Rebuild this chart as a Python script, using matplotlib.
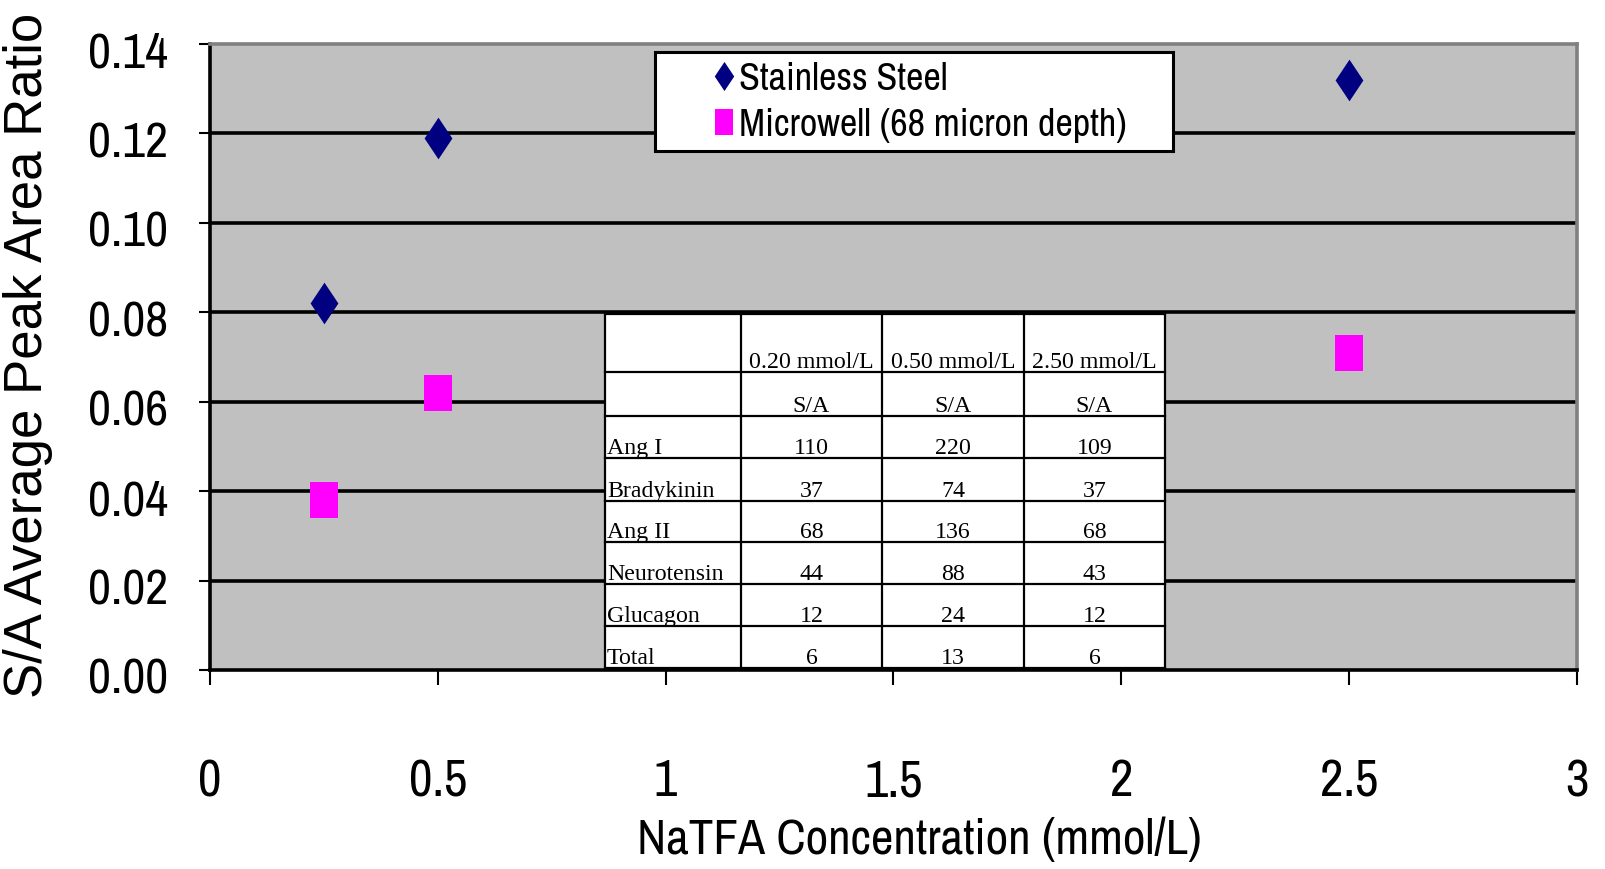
import matplotlib
matplotlib.use('Agg')
import matplotlib.pyplot as plt
from matplotlib.patches import Rectangle
from matplotlib.transforms import ScaledTranslation

# data
conc = [0.25, 0.5, 2.5]
steel = [0.082, 0.119, 0.132]
microwell = [0.038, 0.062, 0.071]

x_ticks = [0, 0.5, 1, 1.5, 2, 2.5, 3]
x_tick_labels = ['0', '0.5', '1', '1.5', '2', '2.5', '3']
y_ticks = [0.00, 0.02, 0.04, 0.06, 0.08, 0.10, 0.12, 0.14]

# inset table
col_headers = ['0.20 mmol/L', '0.50 mmol/L', '2.50 mmol/L']
sub_header = 'S/A'
peptides = ['Ang I', 'Bradykinin', 'Ang II', 'Neurotensin', 'Glucagon', 'Total']
sa_020 = [110, 37, 68, 44, 12, 6]
sa_050 = [220, 74, 136, 88, 24, 13]
sa_250 = [109, 37, 68, 43, 12, 6]

narrow = ['Archivo Narrow', 'DejaVu Sans']
serif = ['Liberation Serif', 'DejaVu Serif']

W, H = 1606, 870
fig = plt.figure(figsize=(W / 100, H / 100), dpi=100)

# plot area in pixels: x 210..1577, y 45..671
L, R, T, B = 210, 1577, 45, 671
ax = fig.add_axes([L / W, 1 - B / H, (R - L) / W, (B - T) / H])
ax.set_facecolor('#c0c0c0')
ax.set_xlim(0, 3)
ax.set_ylim(0, 0.14)


def ax_x(px):
    return (px - L) / (R - L)


def ax_y(py):
    return (B - py) / (B - T)


# gridlines
ax.hlines(y_ticks[1:-1], 0, 3, colors='black', linewidth=2.6, zorder=1)

for side in ['left', 'bottom']:
    ax.spines[side].set_color('black')
    ax.spines[side].set_linewidth(2.6)
for side in ['top', 'right']:
    ax.spines[side].set_color('#808080')
    ax.spines[side].set_linewidth(2.6)

ax.set_xticks(x_ticks)
ax.set_xticklabels(x_tick_labels, family=narrow, fontsize=37)
ax.set_yticks(y_ticks)
ax.set_yticklabels([f'{v:.2f}' for v in y_ticks], family=narrow, fontsize=36,
                   va='center_baseline')
ax.tick_params(axis='x', direction='out', length=11, width=1.5, pad=52)
ax.tick_params(axis='y', direction='out', length=8, width=1.5, pad=22)
# y labels sit slightly below their gridlines in the original
shift = ScaledTranslation(0, -5 / 100, fig.dpi_scale_trans)
for lbl in ax.get_yticklabels():
    lbl.set_transform(lbl.get_transform() + shift)

diamond = [(0, 1), (0.667, 0), (0, -1), (-0.667, 0), (0, 1)]
rect = [(-0.75, -1), (0.75, -1), (0.75, 1), (-0.75, 1), (-0.75, -1)]
ax.plot(conc, steel, linestyle='none', marker=diamond, markersize=30,
        color='#000080', markeredgewidth=0, label='Stainless Steel', zorder=4)
ax.plot(conc, microwell, linestyle='none', marker=rect, markersize=26,
        color='#ff00ff', markeredgewidth=0, label='Microwell (68 micron depth)', zorder=4)

leg = ax.legend(loc='upper left',
                bbox_to_anchor=(ax_x(655), ax_y(148), ax_x(1173) - ax_x(655), ax_y(53) - ax_y(148)),
                mode='expand', prop={'family': narrow, 'size': 27.5}, markerscale=0.7,
                frameon=True, fancybox=False, borderpad=0.235, labelspacing=0.3,
                handlelength=3.14, handletextpad=-1.18, borderaxespad=0)
leg.get_frame().set_edgecolor('black')
leg.get_frame().set_linewidth(2.2)
leg.get_frame().set_facecolor('white')
leg.get_frame().set_alpha(1)

# table geometry (pixels)
col_edges = [605, 741, 882, 1024, 1165]
row_edges = [315, 373, 417, 459, 502, 543, 585, 627, 669]

ax.add_patch(Rectangle((ax_x(col_edges[0]), ax_y(row_edges[-1])),
                       ax_x(col_edges[-1]) - ax_x(col_edges[0]),
                       ax_y(row_edges[0]) - ax_y(row_edges[-1]),
                       transform=ax.transAxes, facecolor='white', edgecolor='none', zorder=2))
for cx in col_edges:
    ax.plot([ax_x(cx), ax_x(cx)], [ax_y(row_edges[0]), ax_y(row_edges[-1])],
            transform=ax.transAxes, color='black', linewidth=1.6, zorder=3, clip_on=False)
for ry in row_edges:
    ax.plot([ax_x(col_edges[0]), ax_x(col_edges[-1])], [ax_y(ry), ax_y(ry)],
            transform=ax.transAxes, color='black', linewidth=1.6, zorder=3, clip_on=False)

rows = [['', *col_headers], ['', sub_header, sub_header, sub_header]]
for name, a, b, c in zip(peptides, sa_020, sa_050, sa_250):
    rows.append([name, str(a), str(b), str(c)])

for i, row in enumerate(rows):
    yb = ax_y(row_edges[i + 1] - 5)
    for j, txt in enumerate(row):
        if j == 0:
            xt, ha = ax_x(col_edges[0] + 2), 'left'
        else:
            xt, ha = ax_x((col_edges[j] + col_edges[j + 1]) / 2), 'center'
        ax.text(xt, yb, txt, transform=ax.transAxes, ha=ha, va='baseline',
                family=serif, fontsize=17.2, zorder=5)

fig.text(28 / W, 1 - 355 / H, 'S/A Average Peak Area Ratio', rotation=90,
         ha='center', va='center', family=['Liberation Sans', 'DejaVu Sans'], fontsize=38)
fig.text(919 / W, 1 - 840 / H, 'NaTFA Concentration (mmol/L)',
         ha='center', va='center', family=narrow, fontsize=35.5)

fig.savefig('out.png', dpi=100, facecolor='white')
